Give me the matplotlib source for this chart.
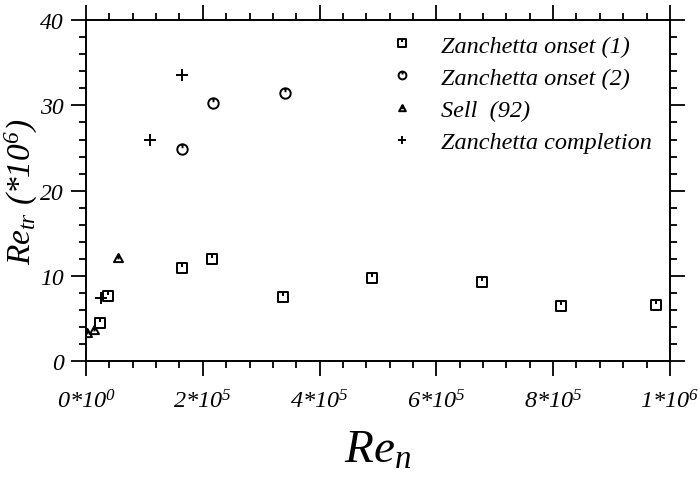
import matplotlib
matplotlib.use("Agg")
import matplotlib.pyplot as plt
from matplotlib.path import Path
from matplotlib.ticker import MultipleLocator, FixedLocator

# Transition Reynolds number data
onset1_x = [2.4e4, 3.7e4, 1.64e5, 2.16e5, 3.38e5, 4.89e5, 6.78e5, 8.13e5, 9.77e5]
onset1_y = [4.5, 7.7, 10.9, 12.0, 7.6, 9.8, 9.3, 6.5, 6.6]

onset2_x = [1.64e5, 2.18e5, 3.40e5]
onset2_y = [24.9, 30.3, 31.4]

sell_x = [2e3, 1.4e4, 5.4e4]
sell_y = [3.3, 3.7, 12.1]

compl_x = [2.6e4, 1.09e5, 1.64e5]
compl_y = [7.4, 26.0, 33.5]

series_labels = ["Zanchetta onset (1)", "Zanchetta onset (2)", "Sell  (92)",
                 "Zanchetta completion"]

x_ticks = [0, 2e5, 4e5, 6e5, 8e5, 1e6]
x_tick_labels = [r"$0{*}10^{0}$", r"$2{*}10^{5}$", r"$4{*}10^{5}$",
                 r"$6{*}10^{5}$", r"$8{*}10^{5}$", r"$1{*}10^{6}$"]
y_ticks = [0, 10, 20, 30, 40]

plt.rcParams["mathtext.fontset"] = "custom"
plt.rcParams["mathtext.rm"] = "Liberation Serif:italic"
plt.rcParams["mathtext.it"] = "Liberation Serif:italic"
plt.rcParams["font.family"] = "Liberation Serif"
plt.rcParams["font.style"] = "italic"

# symbols with a small tick from the top edge
tick_line = Path([(0, 1), (0, 0.25)], [Path.MOVETO, Path.LINETO])
sq = Path([(-1, -1), (1, -1), (1, 1), (-1, 1), (-1, -1)],
          [Path.MOVETO, Path.LINETO, Path.LINETO, Path.LINETO, Path.CLOSEPOLY])
square_mk = Path.make_compound_path(sq, tick_line)
circle_mk = Path.make_compound_path(Path.unit_circle(), tick_line)
tri = Path([(-1, -0.8), (1, -0.8), (0, 1), (-1, -0.8)],
           [Path.MOVETO, Path.LINETO, Path.LINETO, Path.CLOSEPOLY])
tri_line = Path([(0, 1), (0, -0.2)], [Path.MOVETO, Path.LINETO])
tri_mk = Path.make_compound_path(tri, tri_line)

fig = plt.figure(figsize=(7.0, 4.85), dpi=100)
ax = fig.add_axes([0.1229, 0.2526, 0.957 - 0.1229, 0.9567 - 0.2526])

kw = dict(linestyle="none", markerfacecolor="none", markeredgecolor="black",
          color="black", markeredgewidth=1.4)
ax.plot(onset1_x, onset1_y, marker=square_mk, markersize=7.3, label=series_labels[0], **kw)
ax.plot(onset2_x, onset2_y, marker=circle_mk, markersize=7.5, label=series_labels[1], **kw)
ax.plot(sell_x, sell_y, marker=tri_mk, markersize=6.5, label=series_labels[2], **kw)
ax.plot(compl_x, compl_y, marker="+", markersize=8, label=series_labels[3], **kw)

ax.set_xlim(0, 1e6)
ax.set_ylim(0, 40)

ax.xaxis.set_major_locator(FixedLocator(x_ticks))
ax.xaxis.set_minor_locator(MultipleLocator(4e4))
ax.yaxis.set_major_locator(FixedLocator(y_ticks))
ax.yaxis.set_minor_locator(MultipleLocator(2))
ax.set_xticklabels(x_tick_labels)
ax.set_yticklabels([str(v) for v in y_ticks])

ax.tick_params(which="both", direction="out", top=True, right=True,
               labeltop=False, labelright=False, width=1.3, color="black")
ax.tick_params(which="major", length=11)
ax.tick_params(which="minor", length=5)
ax.tick_params(axis="x", which="major", labelsize=17.5, pad=9)
ax.tick_params(axis="y", which="major", labelsize=17, pad=5)
for s in ax.spines.values():
    s.set_linewidth(1.4)

ax.set_xlabel(r"$Re_{n}$", fontsize=34, labelpad=12)
ax.set_ylabel(r"$Re_{tr}$ $(*10^{6})$", fontsize=24, labelpad=0)

leg = ax.legend(loc="upper left", bbox_to_anchor=(0.517, 0.957), frameon=False,
                prop={"family": "Liberation Serif", "style": "italic", "size": 17.5},
                handletextpad=1.0, labelspacing=0.42, borderaxespad=0,
                borderpad=0, handlelength=1.2, markerscale=0.75)

fig.savefig("out.png", dpi=100)
